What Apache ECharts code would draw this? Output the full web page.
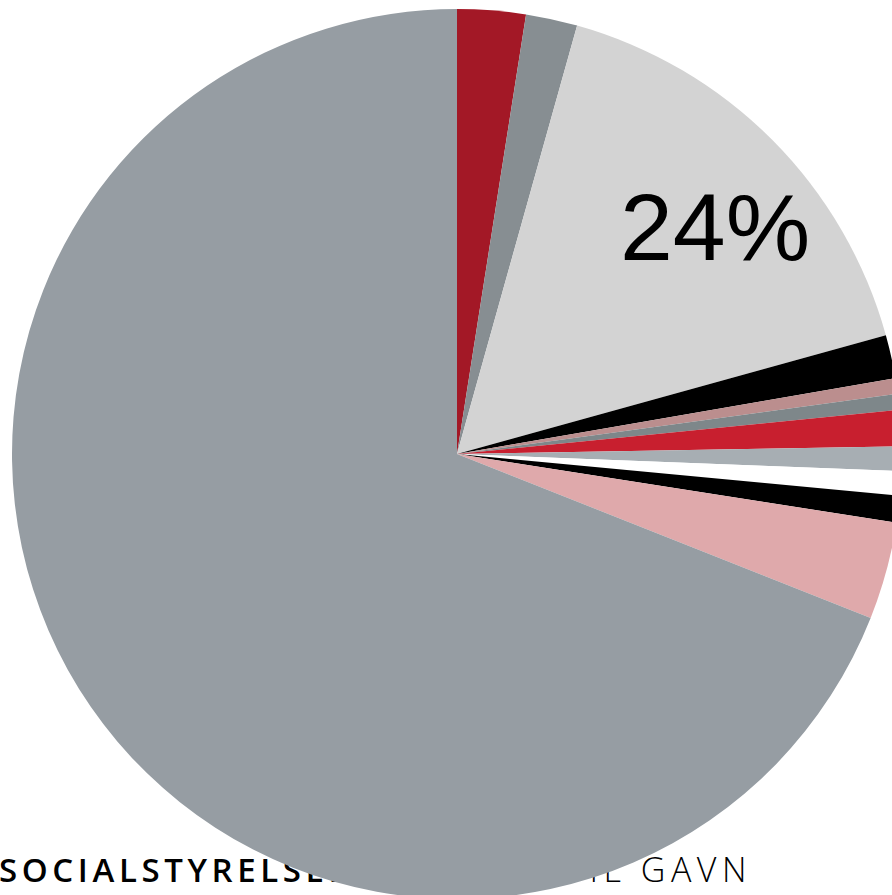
<!DOCTYPE html>
<html>
<head>
<meta charset="utf-8">
<script src="https://cdn.jsdelivr.net/npm/echarts@6/dist/echarts.min.js"></script>
<style>
html,body{margin:0;padding:0;background:#fff;}
#wrap{position:relative;width:892px;height:895px;overflow:hidden;}
.brand{position:absolute;top:848px;font-family:"Open Sans",sans-serif;font-size:33px;color:#000;white-space:nowrap;line-height:44px;}
#brand1{left:-1px;font-weight:600;letter-spacing:4.6px;}
#brand2{right:140px;font-size:34px;font-weight:300;letter-spacing:5.5px;top:847px;}
#chart{position:absolute;left:0;top:0;width:892px;height:895px;}
</style>
</head>
<body>
<div id="wrap">
<div class="brand" id="brand1">SOCIALSTYRELSEN</div>
<div class="brand" id="brand2">VIDEN TIL GAVN</div>
<div id="chart"></div>
</div>
<script>
var categories = ['A','B','C','D','E','F','G','H','I','J','K','L'];
var values = [2.48, 1.87, 16.35, 1.57, 0.57, 0.57, 1.32, 0.88, 0.89, 0.97, 3.54, 68.99];
var colors = ['#A31826','#878E92','#D3D3D3','#000000','#BB8E8E','#7E878A','#C81F2F','#A7AEB3','#FFFFFF','#000000','#DFA9AB','#969DA3'];
var labelText = '24%';

var chart = echarts.init(document.getElementById('chart'), null, {renderer:'canvas'});
chart.setOption({
  backgroundColor: 'transparent',
  animation: false,
  series: [{
    type: 'pie',
    center: [457, 454],
    radius: 445,
    startAngle: 90,
    clockwise: true,
    avoidLabelOverlap: false,
    label: {show: false},
    labelLine: {show: false},
    itemStyle: {borderWidth: 0},
    emphasis: {disabled: true},
    data: categories.map(function(c, i){
      return {name: c, value: values[i], itemStyle: {color: colors[i]}};
    })
  }],
  graphic: [{
    type: 'text',
    left: 620,
    top: 186,
    z: 100,
    style: {text: labelText, font: '95px "Liberation Sans", Arial, sans-serif', fill: '#000'}
  }]
});
</script>
</body>
</html>
